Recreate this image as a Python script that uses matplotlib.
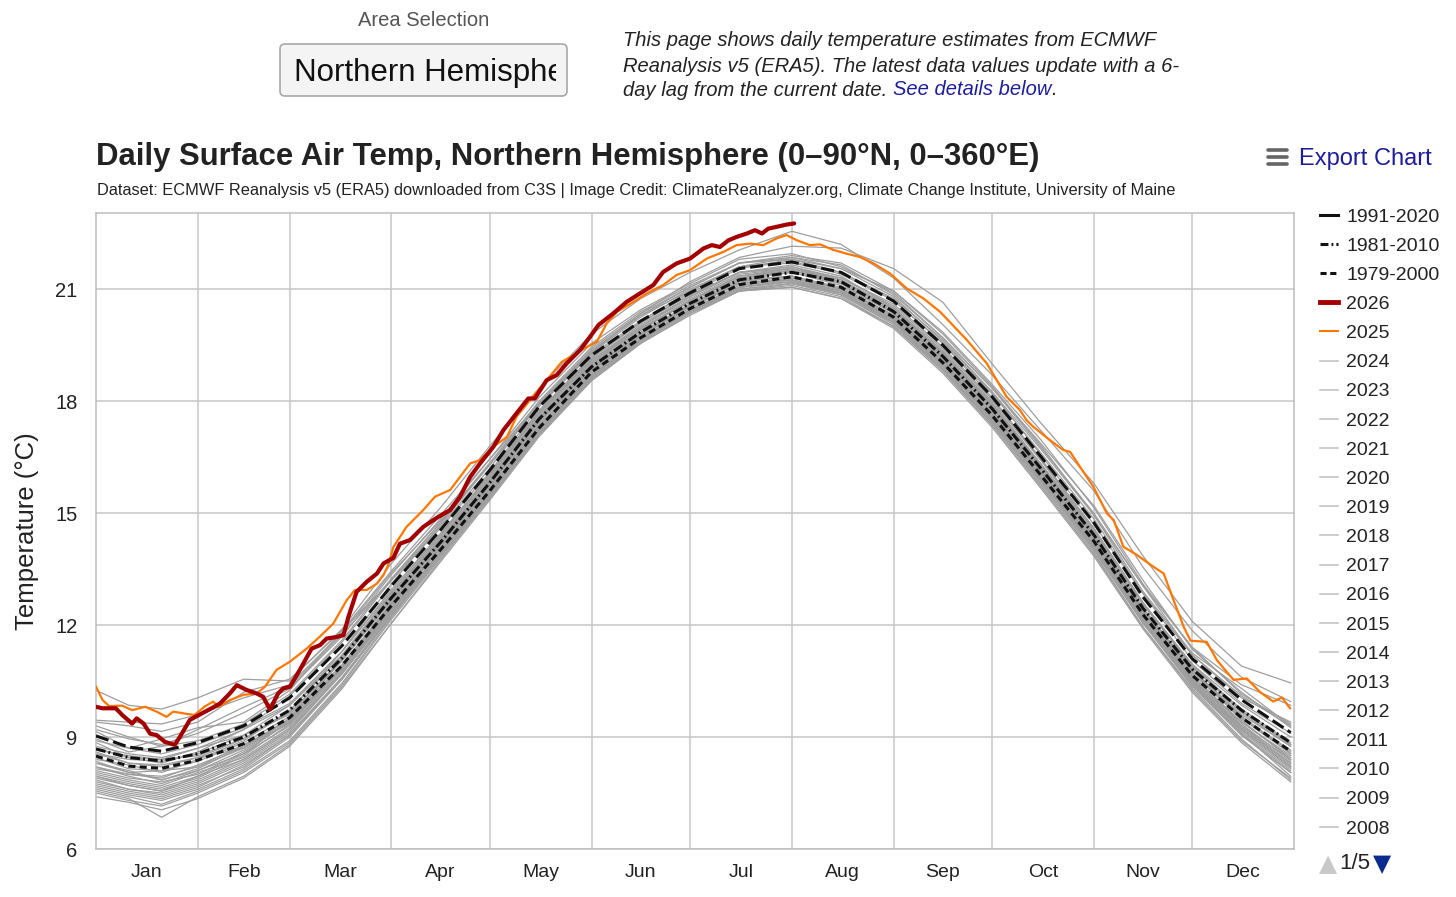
import matplotlib
matplotlib.use('Agg')
import matplotlib.pyplot as plt
from matplotlib.lines import Line2D
from matplotlib.patches import FancyBboxPatch
from matplotlib.transforms import Bbox, TransformedBbox

plt.rcParams['font.family'] = ['Liberation Sans', 'DejaVu Sans']

# ---------------- data ----------------
month_names = ['Jan', 'Feb', 'Mar', 'Apr', 'May', 'Jun', 'Jul', 'Aug', 'Sep', 'Oct', 'Nov', 'Dec']
month_starts = [0, 31, 59, 90, 120, 151, 181, 212, 243, 273, 304, 334, 365]
y_ticks = [6, 9, 12, 15, 18, 21]

clim_days = [0, 10, 20, 31, 45, 59, 75, 90, 105, 120, 135, 151, 166, 181, 196, 212, 227, 243,
             258, 273, 288, 304, 319, 334, 349, 364]
clim_1991_2020 = [9.03, 8.73, 8.62, 8.85, 9.30, 10.05, 11.45, 13.05, 14.55, 16.15, 17.85, 19.23, 20.15,
                  20.90, 21.55, 21.73, 21.45, 20.68, 19.50, 18.12, 16.50, 14.75, 12.75, 11.10, 10.00, 9.12]
clim_1981_2010 = [8.68, 8.45, 8.36, 8.55, 9.00, 9.72, 11.12, 12.73, 14.22, 15.82, 17.52, 18.92, 19.85,
                  20.62, 21.25, 21.45, 21.20, 20.40, 19.20, 17.80, 16.18, 14.42, 12.45, 10.82, 9.72, 8.85]
clim_1979_2000 = [8.49, 8.22, 8.16, 8.38, 8.82, 9.52, 10.92, 12.52, 14.02, 15.60, 17.28, 18.78, 19.70,
                  20.48, 21.12, 21.33, 21.05, 20.25, 19.03, 17.62, 16.00, 14.25, 12.28, 10.65, 9.52, 8.62]

days_2026 = [0, 2, 6, 8, 11, 12.4, 14.5, 16.5, 18.5, 21, 24, 25.6, 28.6, 32.2, 35.2, 37.8, 40.8, 42.9,
             45.9, 48.9, 50.9, 53, 55.5, 57, 59.1, 62.1, 65.7, 68.2, 70.3, 73.3, 75.4, 76.9, 79.4, 82.5,
             85.6, 87.6, 90.6, 92.6, 95.7, 99.7, 104.3, 107.9, 110.9, 114, 117, 121.1, 124.1, 128.1,
             131.7, 133.7, 137.3, 140.4, 143.4, 147.5, 150.5, 153.1, 157.6, 161.7, 166, 169.8, 172.8,
             176.9, 181, 185.1, 187.6, 190.1, 192.7, 195.2, 198.3, 200.8, 202.9, 204.8, 207.4, 210.4, 212.7]
temp_2026 = [9.81, 9.77, 9.77, 9.59, 9.36, 9.50, 9.36, 9.09, 9.05, 8.87, 8.79, 9.01, 9.46, 9.63, 9.77,
             9.90, 10.17, 10.39, 10.26, 10.17, 10.08, 9.74, 10.17, 10.30, 10.35, 10.80, 11.37, 11.46,
             11.64, 11.68, 11.73, 12.22, 12.89, 13.16, 13.38, 13.65, 13.80, 14.18, 14.28, 14.63, 14.90,
             15.08, 15.44, 15.97, 16.33, 16.78, 17.22, 17.67, 18.07, 18.07, 18.56, 18.70, 19.01, 19.37,
             19.72, 20.04, 20.35, 20.66, 20.90, 21.11, 21.46, 21.69, 21.82, 22.09, 22.18, 22.13, 22.31,
             22.40, 22.49, 22.58, 22.49, 22.62, 22.67, 22.73, 22.76]

days_2025 = [0, 2, 4, 8, 11, 15, 18.5, 21.5, 23.5, 27, 30, 33, 35.7, 37.3, 40.8, 44.9, 49, 51.5, 55,
             59.1, 64.2, 68.2, 72.3, 76.4, 78.9, 82.5, 85.6, 87.6, 89.1, 90.6, 94.6, 99.7, 103.3, 107.9,
             114, 117, 121.1, 125.2, 128.1, 132.2, 137.3, 141.9, 145.4, 149.5, 152.6, 155.6, 158.7,
             163.8, 167.7, 172.8, 176.9, 181, 186.1, 191.2, 195.2, 199.3, 203.3, 207.4, 210.4, 213.5,
             217.5, 220.6, 224.7, 228.7, 232.8, 236.9, 241.9, 247, 252.1, 257.2, 265.3, 271.4, 277.4,
             281.5, 283.5, 285.6, 290.7, 294.7, 296.8, 299.8, 303.9, 308, 310.1, 313, 317.1, 322.2,
             325.3, 328.3, 331.4, 333.5, 338.4, 341.5, 343.6, 346.6, 350.6, 354.6, 358.7, 361.3, 363.8]
temp_2025 = [10.35, 9.99, 9.83, 9.84, 9.72, 9.81, 9.68, 9.54, 9.68, 9.63, 9.59, 9.81, 9.95, 9.81, 9.99,
             10.13, 10.17, 10.35, 10.80, 11.02, 11.37, 11.69, 12.04, 12.67, 12.94, 12.94, 13.11, 13.34,
             13.62, 14.09, 14.63, 15.08, 15.44, 15.62, 16.33, 16.42, 16.78, 17.04, 17.58, 18.02, 18.56,
             19.05, 19.23, 19.45, 19.59, 20.08, 20.39, 20.66, 20.88, 21.11, 21.38, 21.51, 21.82, 22.00,
             22.18, 22.22, 22.18, 22.36, 22.45, 22.31, 22.18, 22.20, 22.05, 21.95, 21.86, 21.69, 21.42,
             21.02, 20.75, 20.39, 19.64, 19.01, 18.12, 17.76, 17.49, 17.31, 16.95, 16.69, 16.64, 16.24,
             15.70, 14.99, 14.81, 14.10, 13.88, 13.56, 13.38, 12.67, 11.95, 11.58, 11.55, 11.06, 10.84,
             10.53, 10.57, 10.21, 9.95, 10.06, 9.77]

# earlier years (gray), sampled on clim_days
t2024 = [10.25, 9.85, 9.75, 10.05, 10.55, 10.50, 11.90, 13.65, 15.15, 16.80, 18.35, 19.80, 20.75, 21.45, 22.05, 22.55, 22.20, 21.30, 20.05, 18.70, 17.20, 15.60, 13.55, 11.85, 10.60, 9.95]
t2023 = [8.70, 8.45, 8.30, 8.60, 9.20, 10.10, 11.55, 13.20, 14.75, 16.30, 17.95, 19.30, 20.35, 21.20, 21.85, 22.15, 22.10, 21.55, 20.65, 19.00, 17.40, 15.80, 13.85, 12.10, 10.90, 10.45]
t2022 = [9.20, 8.95, 8.80, 9.10, 9.65, 10.30, 11.70, 13.35, 14.85, 16.45, 18.10, 19.55, 20.45, 21.15, 21.80, 21.95, 21.60, 20.90, 19.70, 18.35, 16.75, 15.00, 13.05, 11.40, 10.15, 9.35]
t2021 = [9.15, 8.70, 8.95, 9.25, 9.40, 10.25, 11.85, 13.20, 14.65, 16.20, 17.95, 19.40, 20.35, 21.05, 21.70, 21.90, 21.70, 20.95, 19.80, 18.40, 16.80, 14.95, 12.90, 11.25, 10.30, 9.30]
t2020 = [9.45, 9.40, 9.35, 9.60, 10.05, 10.40, 11.80, 13.40, 14.80, 16.30, 17.90, 19.35, 20.30, 20.95, 21.60, 21.85, 21.65, 20.85, 19.70, 18.35, 16.85, 15.20, 13.20, 11.35, 10.20, 9.25]
t2019 = [8.95, 8.60, 8.75, 8.90, 9.35, 10.15, 11.60, 13.25, 14.75, 16.35, 18.00, 19.45, 20.40, 21.10, 21.70, 21.80, 21.45, 20.75, 19.65, 18.25, 16.55, 14.70, 12.85, 11.20, 10.05, 9.40]
t2018 = [8.85, 8.45, 8.40, 8.50, 8.95, 9.70, 11.30, 13.10, 14.70, 16.30, 17.90, 19.25, 20.15, 20.95, 21.60, 21.75, 21.40, 20.70, 19.55, 18.10, 16.40, 14.60, 12.60, 10.95, 9.85, 9.00]
t2017 = [9.30, 9.00, 8.75, 9.20, 9.80, 10.35, 11.75, 13.20, 14.60, 16.10, 17.85, 19.30, 20.25, 21.00, 21.60, 21.70, 21.45, 20.70, 19.55, 18.20, 16.60, 14.85, 12.85, 11.05, 9.90, 9.10]
t2016 = [9.40, 9.30, 9.15, 9.40, 10.20, 10.55, 11.85, 13.45, 14.95, 16.45, 17.95, 19.35, 20.30, 21.05, 21.70, 21.85, 21.55, 20.80, 19.60, 18.25, 16.70, 14.95, 13.05, 11.20, 10.10, 9.30]
t2015 = [8.55, 8.40, 8.35, 8.55, 9.05, 9.85, 11.30, 12.90, 14.45, 16.05, 17.75, 19.15, 20.15, 20.90, 21.55, 21.80, 21.55, 20.95, 19.85, 18.45, 16.95, 15.15, 13.10, 11.40, 10.40, 9.85]
t2014 = [8.40, 8.25, 8.05, 8.40, 8.90, 9.70, 11.20, 12.85, 14.40, 16.00, 17.70, 19.10, 20.00, 20.75, 21.40, 21.55, 21.30, 20.60, 19.45, 18.05, 16.45, 14.60, 12.60, 10.85, 9.75, 8.85]
t2013 = [8.60, 8.30, 8.20, 8.45, 8.70, 9.50, 11.05, 12.70, 14.30, 15.95, 17.65, 19.05, 20.00, 20.80, 21.45, 21.60, 21.25, 20.50, 19.35, 17.95, 16.30, 14.55, 12.55, 10.95, 9.70, 8.80]
t2012 = [8.35, 8.05, 7.85, 8.10, 8.55, 9.45, 11.15, 12.80, 14.40, 16.05, 17.75, 19.20, 20.10, 20.85, 21.45, 21.55, 21.20, 20.45, 19.30, 17.90, 16.25, 14.45, 12.40, 10.75, 9.55, 8.55]
t2011 = [8.20, 8.00, 7.95, 8.20, 8.70, 9.40, 10.85, 12.60, 14.25, 15.90, 17.60, 19.05, 19.95, 20.70, 21.35, 21.50, 21.20, 20.45, 19.30, 17.90, 16.30, 14.40, 12.35, 10.70, 9.50, 8.65]
t2010 = [8.65, 8.50, 8.40, 8.70, 9.05, 9.60, 11.10, 12.75, 14.35, 15.95, 17.65, 19.15, 20.10, 20.85, 21.45, 21.65, 21.35, 20.50, 19.30, 17.85, 16.30, 14.40, 12.45, 10.80, 9.45, 8.40]
t2009 = [7.95, 7.75, 7.60, 7.90, 8.50, 9.35, 10.85, 12.55, 14.15, 15.80, 17.50, 18.95, 19.90, 20.70, 21.30, 21.50, 21.20, 20.45, 19.30, 17.95, 16.30, 14.55, 12.60, 10.90, 9.65, 8.75]
t2008 = [8.05, 7.85, 7.70, 8.05, 8.45, 9.25, 10.75, 12.45, 14.10, 15.75, 17.45, 18.90, 19.85, 20.60, 21.25, 21.35, 21.00, 20.25, 19.10, 17.70, 16.05, 14.25, 12.25, 10.55, 9.30, 8.40]
t2007 = [8.30, 8.10, 7.85, 8.15, 8.75, 9.50, 10.95, 12.60, 14.20, 15.85, 17.55, 19.00, 19.95, 20.65, 21.30, 21.45, 21.10, 20.35, 19.20, 17.80, 16.20, 14.40, 12.35, 10.65, 9.40, 8.45]
t2006 = [7.75, 7.55, 7.40, 7.70, 8.20, 9.05, 10.60, 12.30, 13.95, 15.60, 17.30, 18.75, 19.75, 20.50, 21.15, 21.30, 20.95, 20.20, 19.05, 17.65, 16.00, 14.20, 12.20, 10.50, 9.20, 8.20]
t2005 = [7.60, 7.40, 7.20, 7.55, 8.10, 8.90, 10.45, 12.20, 13.85, 15.50, 17.20, 18.65, 19.65, 20.45, 21.05, 21.20, 20.85, 20.10, 18.95, 17.55, 15.90, 14.05, 12.05, 10.40, 9.05, 8.05]
t2004 = [7.85, 7.60, 7.50, 7.80, 8.35, 9.15, 10.70, 12.35, 14.00, 15.65, 17.35, 18.80, 19.80, 20.55, 21.15, 21.25, 20.90, 20.15, 18.95, 17.55, 15.95, 14.15, 12.15, 10.45, 9.10, 7.95]
t2003 = [8.10, 7.90, 7.80, 8.00, 8.60, 9.40, 10.90, 12.50, 14.10, 15.75, 17.45, 18.85, 19.80, 20.55, 21.20, 21.35, 21.00, 20.30, 19.15, 17.75, 16.10, 14.30, 12.30, 10.60, 9.25, 8.25]
t2002 = [7.55, 7.35, 6.85, 7.40, 7.95, 8.80, 10.35, 12.05, 13.75, 15.40, 17.10, 18.55, 19.55, 20.35, 20.95, 21.05, 20.75, 20.00, 18.85, 17.40, 15.75, 13.95, 11.95, 10.30, 8.95, 7.85]
t2001 = [8.45, 8.15, 8.10, 8.35, 8.85, 9.55, 11.05, 12.70, 14.25, 15.85, 17.55, 19.00, 19.95, 20.70, 21.35, 21.50, 21.15, 20.40, 19.25, 17.85, 16.25, 14.50, 12.45, 10.80, 9.55, 8.60]
t2000 = [8.30, 8.05, 8.10, 8.20, 8.80, 9.35, 10.80, 12.45, 13.95, 15.50, 17.20, 18.70, 19.60, 20.40, 21.05, 21.20, 20.95, 20.15, 18.95, 17.50, 15.90, 14.10, 12.20, 10.55, 9.40, 8.50]
t1999 = [7.90, 7.70, 7.55, 7.95, 8.40, 9.20, 10.70, 12.40, 13.90, 15.45, 17.10, 18.60, 19.55, 20.30, 20.95, 21.15, 20.90, 20.10, 18.85, 17.45, 15.85, 14.05, 12.10, 10.45, 9.20, 8.20]
t1998 = [8.75, 8.55, 8.45, 8.70, 9.20, 9.85, 11.20, 12.85, 14.30, 15.85, 17.50, 18.95, 19.90, 20.70, 21.35, 21.55, 21.25, 20.45, 19.25, 17.85, 16.20, 14.40, 12.45, 10.80, 9.60, 8.75]
t1997 = [7.65, 7.45, 7.30, 7.60, 8.15, 9.00, 10.55, 12.25, 13.85, 15.45, 17.15, 18.60, 19.60, 20.40, 21.00, 21.15, 20.85, 20.05, 18.85, 17.40, 15.80, 14.00, 12.05, 10.35, 9.05, 8.05]
t1996 = [8.00, 7.80, 7.65, 7.95, 8.55, 9.30, 10.75, 12.40, 13.95, 15.55, 17.25, 18.70, 19.70, 20.45, 21.05, 21.25, 20.95, 20.20, 19.00, 17.60, 15.95, 14.15, 12.20, 10.50, 9.25, 8.30]
t1995 = [7.40, 7.25, 7.05, 7.35, 7.90, 8.75, 10.30, 12.05, 13.70, 15.35, 17.05, 18.55, 19.55, 20.35, 20.95, 21.10, 20.80, 20.00, 18.80, 17.35, 15.70, 13.90, 11.95, 10.25, 8.90, 7.90]
t1994 = [8.20, 7.95, 7.75, 8.10, 8.65, 9.40, 10.85, 12.45, 14.05, 15.65, 17.35, 18.80, 19.75, 20.55, 21.20, 21.35, 21.05, 20.30, 19.10, 17.70, 16.10, 14.30, 12.30, 10.60, 9.35, 8.35]
t1993 = [7.70, 7.50, 7.35, 7.65, 8.25, 9.05, 10.55, 12.25, 13.85, 15.45, 17.15, 18.65, 19.65, 20.40, 21.00, 21.15, 20.85, 20.10, 18.90, 17.45, 15.85, 14.05, 12.05, 10.40, 9.10, 8.10]
t1992 = [7.95, 7.70, 7.55, 7.85, 8.40, 9.20, 10.70, 12.35, 13.95, 15.55, 17.25, 18.70, 19.70, 20.45, 21.10, 21.25, 20.95, 20.20, 19.00, 17.55, 15.95, 14.15, 12.15, 10.50, 9.20, 8.20]
t1991 = [8.55, 8.30, 8.25, 8.45, 8.95, 9.65, 11.05, 12.65, 14.20, 15.75, 17.45, 18.90, 19.80, 20.60, 21.25, 21.45, 21.15, 20.35, 19.15, 17.75, 16.15, 14.35, 12.40, 10.75, 9.50, 8.55]
t1990 = [7.50, 7.30, 7.15, 7.50, 8.05, 8.85, 10.40, 12.15, 13.80, 15.40, 17.10, 18.60, 19.60, 20.40, 20.95, 21.05, 20.75, 19.95, 18.75, 17.30, 15.65, 13.85, 11.90, 10.20, 8.85, 7.80]
t1989 = [8.15, 8.00, 7.90, 8.25, 8.75, 9.45, 10.90, 12.55, 14.10, 15.70, 17.40, 18.85, 19.80, 20.55, 21.15, 21.30, 21.00, 20.25, 19.05, 17.65, 16.05, 14.25, 12.25, 10.55, 9.30, 8.30]
t1988 = [7.80, 7.60, 7.45, 7.75, 8.30, 9.10, 10.60, 12.30, 13.90, 15.50, 17.20, 18.65, 19.65, 20.45, 21.05, 21.20, 20.90, 20.15, 18.95, 17.50, 15.90, 14.10, 12.10, 10.45, 9.15, 8.15]
t1987 = [8.90, 8.70, 8.55, 8.80, 9.25, 9.90, 11.30, 12.95, 14.45, 16.00, 17.70, 19.10, 20.05, 20.80, 21.45, 21.60, 21.30, 20.55, 19.40, 18.00, 16.40, 14.55, 12.55, 10.90, 9.70, 8.80]

gray_labels = ['2024', '2023', '2022', '2021', '2020', '2019', '2018', '2017', '2016', '2015',
               '2014', '2013', '2012', '2011', '2010', '2009', '2008']
gray_series = [t2024, t2023, t2022, t2021, t2020, t2019, t2018, t2017, t2016, t2015, t2014, t2013,
               t2012, t2011, t2010, t2009, t2008, t2007, t2006, t2005, t2004, t2003, t2002, t2001,
               t2000, t1999, t1998, t1997, t1996, t1995, t1994, t1993, t1992, t1991, t1990, t1989,
               t1988, t1987]

# ---------------- figure ----------------
W, H = 1456, 897
fig = plt.figure(figsize=(W / 100, H / 100), dpi=100)
fig.patch.set_facecolor('white')

ax = fig.add_axes([96 / W, 1 - 849 / H, (1294 - 96) / W, (849 - 213) / H])
ax.set_xlim(0, 365)
ax.set_ylim(6, 23.04)

GRAY = '#9e9e9e'
for vals in gray_series:
    ax.plot(clim_days, vals, color=GRAY, lw=0.9, zorder=2)

black_style = dict(color='#111111', lw=2.2, zorder=4)
ax.plot(clim_days, clim_1979_2000, ls=(0, (2.3, 1.4)), **black_style)
ax.plot(clim_days, clim_1981_2010, ls=(0, (3.2, 1.0, 0.6, 1.0)), **black_style)
ax.plot(clim_days, clim_1991_2020, ls=(0, (4.3, 1.6)), **black_style)
ax.plot(days_2025, temp_2025, color='#ff7700', lw=1.6, zorder=5)
ax.plot(days_2026, temp_2026, color='#a30000', lw=3.0, zorder=6, solid_capstyle='round')

# grid / axes
ax.set_xticks(month_starts[1:-1])
ax.set_xticklabels([])
ax.set_xticks([(month_starts[i] + month_starts[i + 1]) / 2 for i in range(12)], minor=True)
ax.set_xticklabels(month_names, minor=True)
ax.tick_params(axis='x', which='both', length=0, pad=11, labelsize=14, labelcolor='#222222')
ax.set_yticks(y_ticks)
ax.set_yticklabels([str(v) for v in y_ticks])
ax.tick_params(axis='y', length=0, pad=13.4, labelsize=14.5, labelcolor='#222222')
ax.grid(True, which='major', color='#c6c6c6', lw=1.1)
ax.set_axisbelow(True)
for s in ax.spines.values():
    s.set_color('#bdbdbd')
    s.set_linewidth(1.1)
ax.set_ylabel('Temperature (°C)', fontsize=18.5, color='#222222')
ax.yaxis.set_label_coords(-0.0476, 0.5)

# legend
handles = [
    Line2D([], [], color='#111111', lw=2.2),
    Line2D([], [], color='#111111', lw=2.2, ls=(0, (2.6, 1.0, 0.6, 1.0))),
    Line2D([], [], color='#111111', lw=2.2, ls=(0, (2.0, 1.2))),
    Line2D([], [], color='#a30000', lw=3.5),
    Line2D([], [], color='#ff7700', lw=1.5),
] + [Line2D([], [], color='#c4c4c4', lw=1.2) for _ in gray_labels]
labels = ['1991-2020', '1981-2010', '1979-2000', '2026', '2025'] + gray_labels
leg = ax.legend(handles, labels, loc='upper left', bbox_to_anchor=(1320 / W, 1 - 208 / H),
                bbox_transform=fig.transFigure, frameon=False, fontsize=14, handlelength=0.95,
                handletextpad=0.4, labelspacing=0.593, borderpad=0, borderaxespad=0)
for t in leg.get_texts():
    t.set_color('#222222')

fig.text(1319 / W, 1 - 864 / H, '▲', fontsize=17, color='#c8c8c8', va='center', ha='left',
         family=['DejaVu Sans'])
fig.text(1339 / W, 1 - 863 / H, '1/5', fontsize=16, color='#222222', va='center', ha='left')
fig.text(1373 / W, 1 - 864 / H, '▼', fontsize=17, color='#0b2c8f', va='center', ha='left',
         family=['DejaVu Sans'])

# titles
fig.text(96 / W, 1 - 157 / H, 'Daily Surface Air Temp, Northern Hemisphere (0–90°N, 0–360°E)',
         fontsize=22.4, fontweight='bold', color='#222222', va='center', ha='left')
fig.text(97 / W, 1 - 191 / H,
         'Dataset: ECMWF Reanalysis v5 (ERA5) downloaded from C3S | Image Credit: '
         'ClimateReanalyzer.org, Climate Change Institute, University of Maine',
         fontsize=11.8, color='#222222', va='center', ha='left')

# export chart
for yy in (150, 157, 164):
    fig.add_artist(Line2D([1268 / W, 1287 / W], [1 - yy / H, 1 - yy / H], color='#666666', lw=2.6,
                          solid_capstyle='round', transform=fig.transFigure))
fig.text(1299 / W, 1 - 159 / H, 'Export Chart', fontsize=17, color='#1d1d9c', va='center', ha='left')

# area selection
fig.text(424 / W, 1 - 21 / H, 'Area Selection', fontsize=14.5, color='#555555', va='center', ha='center')
box = FancyBboxPatch((2.80, (H - 96) / 100), 2.87, 0.52, boxstyle='round,pad=0,rounding_size=0.05',
                     transform=fig.dpi_scale_trans, facecolor='#f4f4f4', edgecolor='#a8a8a8', lw=1.2)
fig.add_artist(box)
t_sel = fig.text(294 / W, 1 - 73 / H, 'Northern Hemisphere', fontsize=22.5, color='#111111',
                 va='center', ha='left')
t_sel.set_clip_on(True)
t_sel.set_clip_box(TransformedBbox(Bbox([[2.80, 8.01], [5.56, 8.53]]), fig.dpi_scale_trans))

# description
desc_kw = dict(fontsize=14.5, style='italic', color='#222222', va='center', ha='left')
fig.text(623 / W, 1 - 41 / H, 'This page shows daily temperature estimates from ECMWF', **desc_kw)
fig.text(623 / W, 1 - 66 / H, 'Reanalysis v5 (ERA5). The latest data values update with a 6-', **desc_kw)
t1 = fig.text(623 / W, 1 - 90 / H, 'day lag from the current date. ', **desc_kw)
t2 = fig.text(0, 0, 'See details below', fontsize=14.5, style='italic', color='#1d1d9c')
t3 = fig.text(0, 0, '.', fontsize=14.5, style='italic', color='#222222')
fig.canvas.draw()
r = fig.canvas.get_renderer()
bb = t1.get_window_extent(r)
t2.set_position((bb.x1 / W, bb.y0 / H))
t2.set_va('bottom')
fig.canvas.draw()
bb2 = t2.get_window_extent(r)
t3.set_position((bb2.x1 / W, bb.y0 / H))
t3.set_va('bottom')

fig.savefig('out.png', dpi=100, facecolor='white')
